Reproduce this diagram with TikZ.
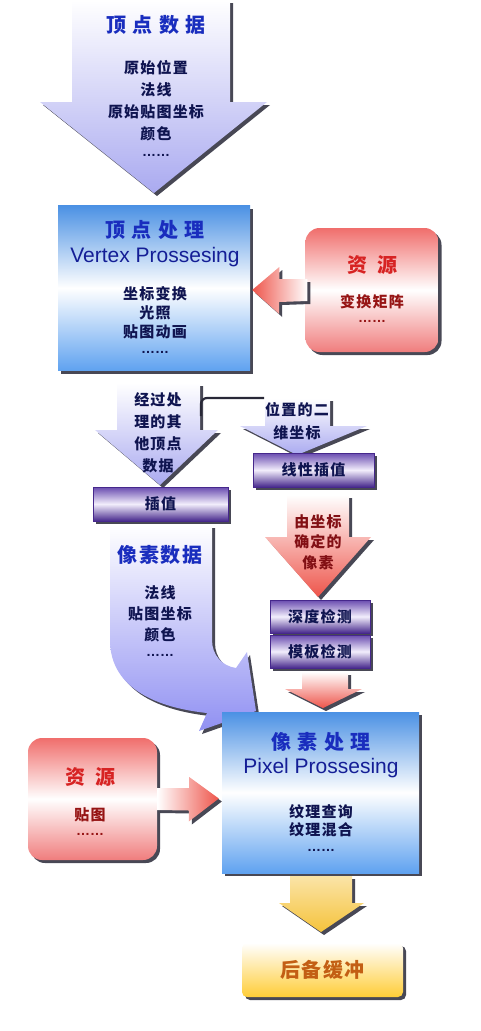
\documentclass[tikz,border=0pt]{standalone}
\usepackage{fontspec}
\setmainfont{Noto Sans CJK SC}[LetterSpace=8]
\newfontfamily\latinsf{Liberation Sans}
\usetikzlibrary{calc,shadows}

\definecolor{headblue}{RGB}{25,45,190}
\definecolor{engblue}{RGB}{20,30,150}
\definecolor{bodynavy}{RGB}{15,20,80}
\definecolor{headred}{RGB}{215,35,35}
\definecolor{subred}{RGB}{150,20,20}
\definecolor{pixred}{RGB}{130,15,20}
\definecolor{buftext}{RGB}{195,95,20}
\definecolor{boxblue}{RGB}{75,145,228}
\definecolor{boxblueb}{RGB}{95,162,240}
\definecolor{resred}{RGB}{240,110,108}
\definecolor{resredb}{RGB}{240,125,125}
\definecolor{barpurple}{RGB}{105,75,175}
\definecolor{barlight}{RGB}{242,238,252}
\definecolor{bardark}{RGB}{70,40,140}
\definecolor{arrowblue}{RGB}{170,170,240}
\definecolor{arrowred}{RGB}{238,85,75}
\definecolor{arrowyellow}{RGB}{245,195,60}
\definecolor{bufyellow}{RGB}{255,205,55}
\definecolor{shadowgray}{RGB}{40,40,55}

\tikzset{
  head/.style={font=\bfseries\fontsize{20}{24}\selectfont, text=headblue, inner sep=0pt},
  eng/.style={font=\latinsf\fontsize{21}{24}\selectfont, text=engblue, inner sep=0pt},
  txt/.style={font=\bfseries\fontsize{15}{#1}\selectfont, text=bodynavy, align=center, inner sep=0pt},
  txt/.default=19,
  dots/.style={font=\latinsf\bfseries\fontsize{14}{16}\selectfont, text=bodynavy, inner sep=0pt},
  shade/.style={drop shadow={shadow xshift=3pt, shadow yshift=-3pt, fill=shadowgray, opacity=0.85}},
  procbox/.style={shade, top color=boxblue, bottom color=boxblueb, middle color=white},
  resbox/.style={shade, rounded corners=14pt, top color=resred, bottom color=resredb, middle color=white},
  bar/.style={shade, draw=bardark, line width=0.8pt, top color=barpurple, bottom color=bardark, middle color=barlight,
    font=\bfseries\fontsize{15}{18}\selectfont, text=bodynavy},
  bufbox/.style={shade, rounded corners=5pt, top color=white, bottom color=bufyellow,
    font=\bfseries\fontsize{20}{24}\selectfont, text=buftext},
  bluearrow/.style={shade, top color=white, bottom color=arrowblue},
  redarrow/.style={shade, top color=white, bottom color=arrowred},
  bracket/.style={draw=shadowgray, line width=2.2pt, rounded corners=6pt}
}

\begin{document}
\begin{tikzpicture}[x=1pt, y=-1pt]
\useasboundingbox (0,0) rectangle (480,1031);

% vertex data
\path[bluearrow] (72,0) -- (230,0) -- (230,102) -- (267,102) -- (154,193) -- (40,102) -- (72,102) -- cycle;
\node[head] (vdata) at (156,25) {顶 点 数 据};
\node[txt=22] (vdatalist) at (156,101) {原始位置\\法线\\原始贴图坐标\\颜色};
\node[dots] (vdatadots) at (156,155) {……};

% vertex processing
\node[procbox, minimum width=192pt, minimum height=165pt] (vp) at (154,288) {};
\node[head] (vphead) at (155,230) {顶 点 处 理};
\node[eng] (vpeng) at (155,257) {Vertex Prossesing};
\node[txt] (vplist) at (155,313) {坐标变换\\光照\\贴图动画};
\node[dots] (vpdots) at (155,352) {……};

\node[resbox, minimum width=133pt, minimum height=124pt] (res1) at (372,290) {};
\node[head, text=headred] (res1head) at (372,265) {资\hspace{.5em}源};
\node[txt, text=subred] (res1list) at (372,302) {变换矩阵};
\node[dots, text=subred] (res1dots) at (372,321) {……};
\path[shade, left color=arrowred, right color=white] ($(res1.west)+(2,-11)$) -- ++(-28,0) -- ++(0,-12)
  -- ($(vp.east)+(2,2)$) -- ++(27,24) -- ++(0,-12) -- ($(res1.west)+(2,11)$) -- cycle;

% split
\path[bluearrow] (117,383) -- (200,383) -- (200,430) -- (218,430) -- (160,485) -- (95,430) -- (117,430) -- cycle;
\node[txt=22] (other) at (158,433) {经过处\\理的其\\他顶点\\数据};
\path[bluearrow] (265,398) -- (330,398) -- (330,426) -- (367,426) -- (297,455) -- (240,426) -- (265,426) -- cycle;
\node[txt=23] (pos) at (297,421) {位置的二\\维坐标};
\coordinate (otherjoin) at (201,416);
\coordinate (posjoin) at (264,398);
\draw[bracket] (otherjoin) |- (posjoin);

\node[bar, minimum width=135pt, minimum height=34pt] (interp) at (160.5,504) {插值};
\node[bar, minimum width=121pt, minimum height=34pt] (linear) at (313.5,470) {线性插值};

% pixel selection and tests
\path[redarrow] (287,495) -- (349,495) -- (349,537) -- (371,537) -- (318,597) -- (265,537) -- (287,537) -- cycle;
\node[txt=20.5, text=pixred] (pixsel) at (318,542) {由坐标\\确定的\\像素};
\node[bar, minimum width=100pt, minimum height=33pt] (depth) at (320,616.5) {深度检测};
\node[bar, minimum width=100pt, minimum height=33pt] (stencil) at (320,651.5) {模板检测};
\path[redarrow] (302,672) -- (348,672) -- (348,689) -- (362,689) -- (323,708) -- (285,689) -- (302,689) -- cycle;

% pixel data
\path[shade, top color=white, bottom color=arrowblue!85!blue] (110,525) -- (110,640) .. controls (110,690) and (160,708) .. (207,713)
  -- (199,731) -- (256,711) -- (247,652) -- (236,668) .. controls (222,666) and (212,655) .. (212,640) -- (212,525) -- cycle;
\node[head] (pixdata) at (160,555) {像素数据};
\node[txt=21] (pixlist) at (160,614) {法线\\贴图坐标\\颜色};
\node[dots] (pixdots) at (160,655) {……};

% pixel processing
\node[procbox, minimum width=197pt, minimum height=161pt] (pp) at (320.5,792.5) {};
\node[head] (pphead) at (321,742) {像 素 处 理};
\node[eng] (ppeng) at (321,768) {Pixel Prossesing};
\node[txt=18] (pplist) at (321,821) {纹理查询\\纹理混合};
\node[dots] (ppdots) at (321,850) {……};

\node[resbox, minimum width=129pt, minimum height=122pt] (res2) at (92.5,799) {};
\node[head, text=headred] (res2head) at (90,777) {资\hspace{.5em}源};
\node[txt, text=subred] (res2list) at (90,815) {贴图};
\node[dots, text=subred] (res2dots) at (90,834) {……};
\path[shade, left color=white, right color=arrowred] ($(res2.east)+(0,-11)$) -- ++(32,0) -- ++(0,-11)
  -- ($(pp.west)+(-3,6)$) -- ++(-30,23) -- ++(0,-11) -- ($(res2.east)+(0,11)$) -- cycle;

% back buffer
\path[shade, top color=arrowyellow!45!white, bottom color=arrowyellow] (290,876) -- (352,876) -- (352,903) -- (364,903)
  -- (321,932) -- (279,903) -- (290,903) -- cycle;
\node[bufbox, minimum width=161pt, minimum height=54pt] (buf) at (322.5,970) {后备缓冲};
\end{tikzpicture}
\end{document}
